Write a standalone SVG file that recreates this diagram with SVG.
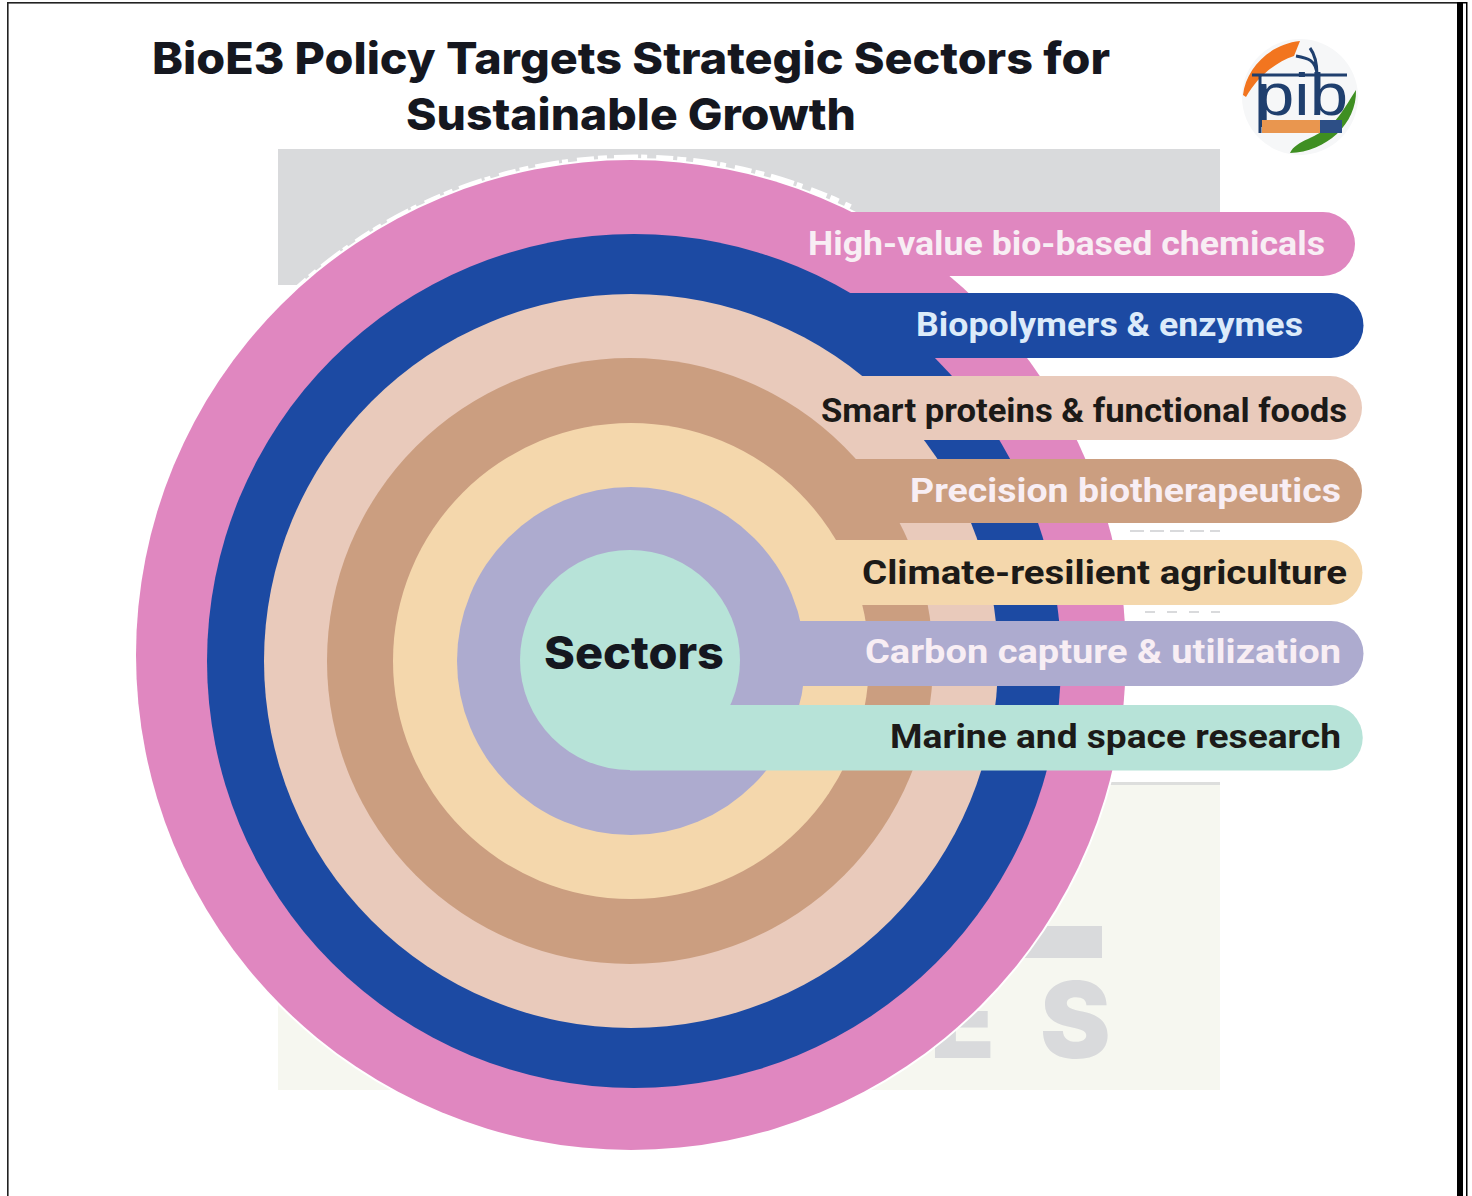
<svg xmlns="http://www.w3.org/2000/svg" width="1472" height="1196" viewBox="0 0 1472 1196">
<style>
.t{font-family:"Inter","Liberation Sans",sans-serif;font-weight:800;fill:#15171f;font-size:44px;text-anchor:middle}
.l{font-family:"Roboto","Liberation Sans",sans-serif;font-weight:700;font-size:33px}
.w{fill:#f8eef4}
.d{fill:#1c1a18}
.wm{font-family:"Inter","Liberation Sans",sans-serif;font-weight:900;font-size:106px;fill:#d9dadc}
</style>
<rect width="1472" height="1196" fill="#fff"/>
<g id="frame" fill="#000">
<rect x="7" y="2" width="1450" height="1.6" fill="#222"/>
<rect x="7" y="2" width="1.6" height="1194" fill="#222"/>
<rect x="1457" y="2" width="6" height="1194"/>
<rect x="1466" y="2" width="1.5" height="1194"/>
<rect x="1463" y="2" width="4" height="1.500"/>
</g>
<g id="title">
<text class="t" x="631" y="74" textLength="958" lengthAdjust="spacingAndGlyphs">BioE3 Policy Targets Strategic Sectors for</text>
<text class="t" x="631" y="130" textLength="450" lengthAdjust="spacingAndGlyphs">Sustainable Growth</text>
</g>
<g id="logo">
<circle cx="1300" cy="97" r="58" fill="#f6f7f8"/>
<path d="M1243 95C1246 68 1270 44 1300 41L1294 56C1276 62 1258 76 1246 97Z" fill="#f2751f"/>
<path d="M1356 90C1357 124 1326 152 1290 153C1296 140 1318 138 1332 124C1342 114 1348 102 1356 90Z" fill="#3f8f22"/>
<path d="M1252 75H1347M1296 56C1308 58 1316 60 1317 75M1310 48C1316 56 1317 65 1317 75M1260 75V133" fill="none" stroke="#1f3f6e" stroke-width="3"/>
<text x="1256" y="115" font-family="Liberation Sans, sans-serif" font-size="60" fill="#1f3f6e" textLength="92" lengthAdjust="spacingAndGlyphs">pib</text>
<rect x="1262" y="120" width="58" height="13" fill="#e9964f"/>
<rect x="1320" y="120" width="22" height="13" fill="#2d4f86"/>
</g>
<g id="watermark">
<rect x="278" y="149" width="942" height="136" fill="#d9dadc"/>
<rect x="278" y="782" width="942" height="308" fill="#f6f7f0"/>
<rect x="930" y="782" width="290" height="3" fill="#dddedd"/>
<rect x="1022" y="926" width="80" height="32" fill="#d9dadc"/>
<text class="wm" x="930" y="1058">E</text>
<text class="wm" x="1040" y="1058">S</text>
<rect x="850" y="276" width="370" height="500" fill="#fff"/>
<path d="M1130 531H1220" stroke="#d9dadc" stroke-width="2" stroke-dasharray="14 6" fill="none"/>
<path d="M1145 612H1220" stroke="#d9dadc" stroke-width="2" stroke-dasharray="10 12" fill="none"/>
</g>
<g id="ring-chemicals">
<circle cx="631" cy="655" r="497" fill="#fff"/>
<path d="M295 292A497 497 0 0 1 850 208" fill="none" stroke="#fff" stroke-width="8" stroke-dasharray="17 4 9 7 24 3 6 9"/>
<circle cx="631" cy="655" r="495" fill="#e087c0"/>
<path d="M631 212H1323a32 32 0 0 1 0 64H631Z" fill="#e087c0"/>
<text class="l w" x="808" y="255" textLength="517" lengthAdjust="spacingAndGlyphs">High-value bio-based chemicals</text>
</g>
<g id="ring-biopolymers">
<circle cx="634" cy="661" r="427" fill="#1c4aa3"/>
<path d="M634 293H1331a32.500 32.500 0 0 1 0 65H634Z" fill="#1c4aa3"/>
<text class="l" fill="#dcebfa" x="916" y="336" textLength="387" lengthAdjust="spacingAndGlyphs">Biopolymers &amp; enzymes</text>
</g>
<g id="ring-proteins">
<circle cx="631" cy="661" r="367" fill="#e9cabb"/>
<path d="M631 376H1330a32 32 0 0 1 0 64H631Z" fill="#e9cabb"/>
<text class="l d" x="821" y="422" textLength="526" lengthAdjust="spacingAndGlyphs">Smart proteins &amp; functional foods</text>
</g>
<g id="ring-biotherapeutics">
<circle cx="630" cy="661" r="303" fill="#cb9e80"/>
<path d="M630 459H1330a32 32 0 0 1 0 64H630Z" fill="#cb9e80"/>
<text class="l w" x="910" y="502" textLength="431" lengthAdjust="spacingAndGlyphs">Precision biotherapeutics</text>
</g>
<g id="ring-agriculture">
<circle cx="631" cy="661" r="238" fill="#f4d7ac"/>
<path d="M631 540H1330a32.500 32.500 0 0 1 0 65H631Z" fill="#f4d7ac"/>
<text class="l d" x="862" y="584" textLength="485" lengthAdjust="spacingAndGlyphs">Climate-resilient agriculture</text>
</g>
<g id="ring-carbon">
<circle cx="631" cy="661" r="174" fill="#adabcf"/>
<path d="M631 621H1331a32.500 32.500 0 0 1 0 65H631Z" fill="#adabcf"/>
<text class="l w" x="865" y="663" textLength="476" lengthAdjust="spacingAndGlyphs">Carbon capture &amp; utilization</text>
</g>
<g id="ring-marine">
<circle cx="630" cy="660" r="110" fill="#b7e3d8"/>
<path d="M630 705H1330a32.500 32.500 0 0 1 0 65.500H630Z" fill="#b7e3d8"/>
<text class="l d" x="890" y="748" textLength="451" lengthAdjust="spacingAndGlyphs">Marine and space research</text>
<text x="634" y="669" font-family="Inter, Liberation Sans, sans-serif" font-weight="800" font-size="45" fill="#15171f" text-anchor="middle" textLength="180" lengthAdjust="spacingAndGlyphs">Sectors</text>
</g>
</svg>
